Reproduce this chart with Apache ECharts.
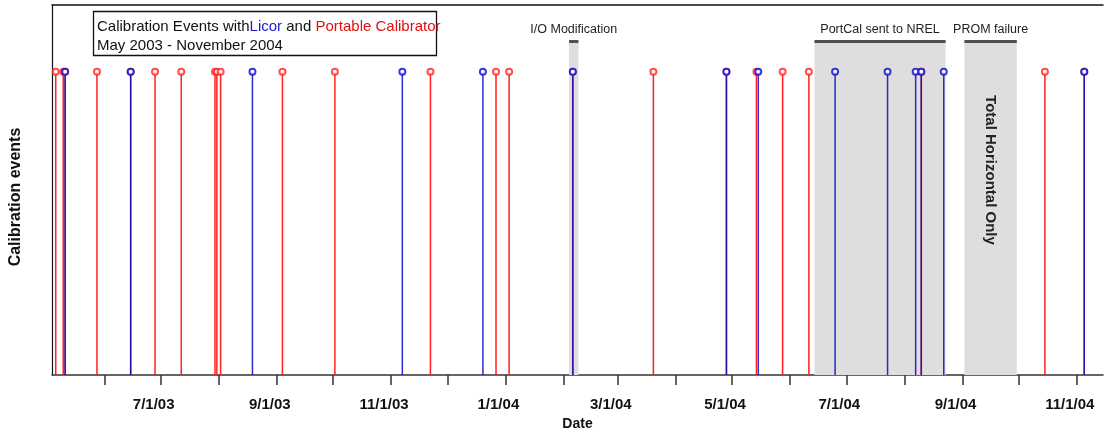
<!DOCTYPE html>
<html>
<head>
<meta charset="utf-8">
<script src="https://cdn.jsdelivr.net/npm/echarts@6/dist/echarts.min.js"></script>
<style>
html,body{margin:0;padding:0;background:#fff;}
#chart{width:1105px;height:432px;}
</style>
</head>
<body>
<div id="chart"></div>
<script>
// ---- data ----
const licorDates = ['2003-05-11','2003-06-15','2003-08-19','2003-11-07','2003-12-20','2004-02-06',
  '2004-04-28','2004-05-15','2004-06-25','2004-07-23','2004-08-07','2004-08-10','2004-08-22','2004-11-05'];
const portcalDates = ['2003-05-06','2003-05-10','2003-05-11','2003-05-28','2003-06-15','2003-06-28',
  '2003-07-12','2003-07-30','2003-07-31','2003-08-02','2003-09-04','2003-10-02','2003-11-22',
  '2003-12-27','2004-01-03','2004-02-06','2004-03-20','2004-04-28','2004-05-14','2004-05-28',
  '2004-06-11','2004-08-10','2004-10-15','2004-11-05'];
const tickDates = ['2003-06-01','2003-07-01','2003-08-01','2003-09-01','2003-10-01','2003-11-01',
  '2003-12-01','2004-01-01','2004-02-01','2004-03-01','2004-04-01','2004-05-01','2004-06-01',
  '2004-07-01','2004-08-01','2004-09-01','2004-10-01','2004-11-01'];
const labelDates = ['2003-07-01','2003-09-01','2003-11-01','2004-01-01','2004-03-01','2004-05-01',
  '2004-07-01','2004-09-01','2004-11-01'];
const periodNames = ['I/O Modification','PortCal sent to NREL','PROM failure'];
const periodStarts = ['2004-02-04','2004-06-14','2004-09-02'];
const periodEnds = ['2004-02-09','2004-08-23','2004-09-30'];
const noteText = 'Total Horizontal Only';
const noteDate = '2004-09-16';
const axisMin = '2003-05-04';
const axisMax = '2004-11-15';

function d(s){ const p = s.split('-').map(Number); return Date.UTC(p[0], p[1]-1, p[2]); }
function fmt(v){ const t = new Date(v); return (t.getUTCMonth()+1)+'/'+t.getUTCDate()+'/'+String(t.getUTCFullYear()).slice(2); }

const RED = '#ff2020';
const BLUE = '#0808c8';
const FONT = '"Liberation Sans", Arial, sans-serif';
const TOP = 1.1;

const chart = echarts.init(document.getElementById('chart'), null, {renderer:'canvas'});

const markAreaData = periodNames.map((n,i)=>[
  {name:n, xAxis:d(periodStarts[i]), yAxis:0},
  {xAxis:d(periodEnds[i]), yAxis:TOP}
]);
const markLineData = periodNames.map((n,i)=>[
  {coord:[d(periodStarts[i]), TOP]},
  {coord:[d(periodEnds[i]), TOP]}
]);

const option = {
  animation:false,
  backgroundColor:'#fff',
  grid:{left:52, right:2, top:5, bottom:57, containLabel:false, outerBoundsMode:'none'},
  xAxis:[{
    type:'value', min:d(axisMin), max:d(axisMax), scale:true,
    name:'Date', nameLocation:'middle', nameGap:42,
    nameTextStyle:{fontFamily:FONT, fontWeight:'bold', fontSize:14, color:'#111'},
    axisLine:{show:true, onZero:false, lineStyle:{color:'#333', width:1.5}},
    axisTick:{show:true, length:10, customValues:tickDates.map(d), lineStyle:{color:'#333', width:1.5}},
    axisLabel:{show:true, customValues:labelDates.map(d), formatter:fmt, margin:22,
      padding:[0,14,0,0],
      fontFamily:FONT, fontWeight:'bold', fontSize:15, color:'#111'},
    splitLine:{show:false}
  },{
    type:'value', position:'top', min:d(axisMin), max:d(axisMax), scale:true,
    axisLine:{show:true, onZero:false, lineStyle:{color:'#111', width:1.5}},
    axisTick:{show:false}, axisLabel:{show:false}, splitLine:{show:false}
  }],
  yAxis:{
    type:'value', min:0, max:1.22,
    name:'Calibration events', nameLocation:'middle', nameGap:28, nameRotate:90,
    nameTextStyle:{fontFamily:FONT, fontWeight:'bold', fontSize:16, color:'#111', padding:[0,14,0,0]},
    axisLine:{show:true, onZero:false, lineStyle:{color:'#111', width:1.2}},
    axisTick:{show:false}, axisLabel:{show:false}, splitLine:{show:false}
  },
  series:[
    {
      type:'bar', name:'Portable Calibrator', barWidth:1.5, barGap:'-100%',
      data:portcalDates.map(s=>[d(s),1]),
      itemStyle:{color:RED},
      z:3,
      markArea:{
        silent:true,
        itemStyle:{color:'#dedede'},
        label:{show:true, position:'top', distance:5, fontFamily:FONT, fontSize:12.5, color:'#222'},
        data:markAreaData
      },
      markLine:{
        silent:true, symbol:'none',
        lineStyle:{color:'#505050', width:3, type:'solid'},
        label:{show:false},
        data:markLineData
      },
      markPoint:{
        silent:true, symbol:'circle', symbolSize:0,
        label:{show:true, position:'inside', formatter:noteText, rotate:-90,
          fontFamily:FONT, fontWeight:'bold', fontSize:15, color:'#222'},
        data:[{coord:[d(noteDate), 0.676]}]
      }
    },
    {
      type:'bar', name:'Licor', barWidth:1.5, barGap:'-100%',
      data:licorDates.map(s=>[d(s),1]),
      itemStyle:{color:BLUE, opacity:0.85},
      z:4
    },
    {
      type:'scatter', data:portcalDates.map(s=>[d(s),1]),
      symbol:'emptyCircle', symbolSize:6,
      itemStyle:{color:RED, borderColor:RED, borderWidth:1.4},
      z:5
    },
    {
      type:'scatter', data:licorDates.map(s=>[d(s),1]),
      symbol:'emptyCircle', symbolSize:6,
      itemStyle:{color:BLUE, borderColor:BLUE, borderWidth:1.4},
      z:6
    }
  ],
  graphic:[
    {type:'rect', shape:{x:93.5, y:11.5, width:343, height:44},
      style:{fill:'#fff', stroke:'#111', lineWidth:1.3}, z:100},
    {type:'text', x:97, y:17, z:101,
      style:{
        text:'{k|Calibration Events with}{b|Licor}{k| and }{r|Portable Calibrator}\n{k|May 2003 - November 2004}',
        font:'15px '+FONT,
        rich:{
          k:{fill:'#111', fontSize:15, fontFamily:FONT, lineHeight:19},
          b:{fill:'#1a1acc', fontSize:15, fontFamily:FONT, lineHeight:19},
          r:{fill:'#e01010', fontSize:15, fontFamily:FONT, lineHeight:19}
        }
      }}
  ]
};
chart.setOption(option);
</script>
</body>
</html>
